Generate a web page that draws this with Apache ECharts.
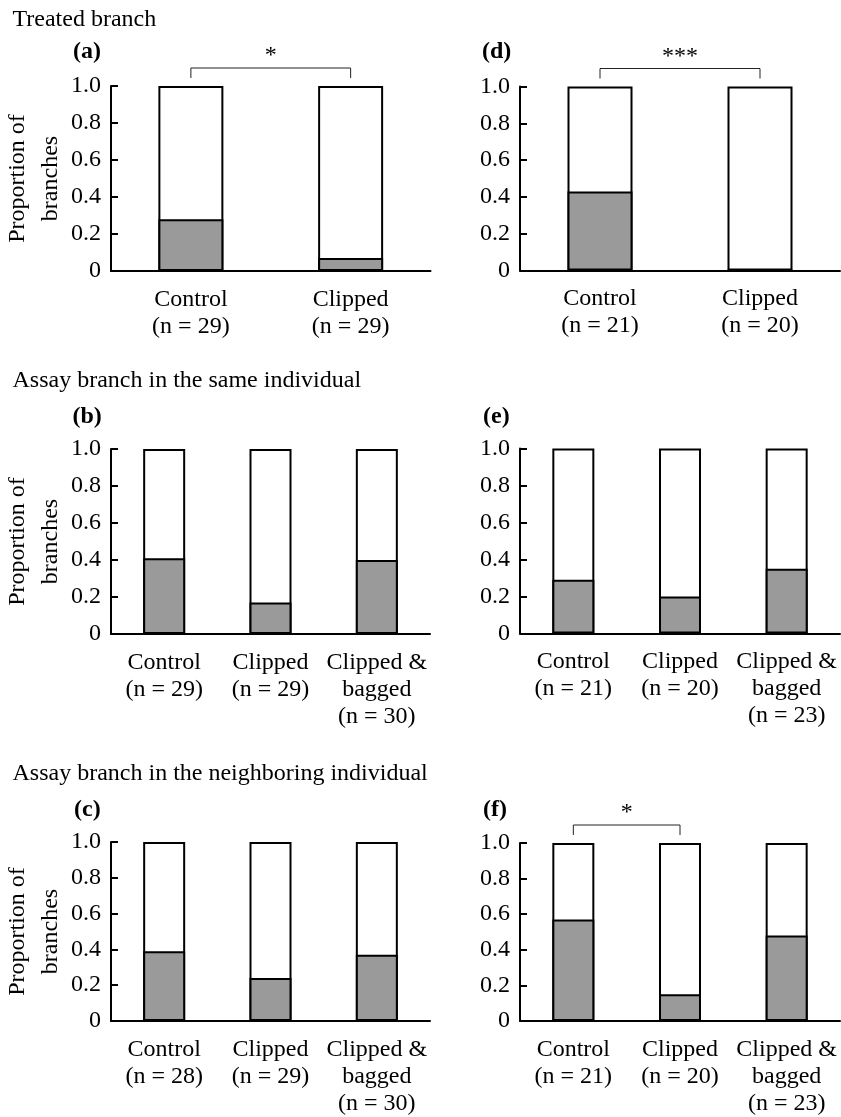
<!DOCTYPE html>
<html>
<head>
<meta charset="utf-8">
<script src="https://cdn.jsdelivr.net/npm/echarts@6/dist/echarts.min.js"></script>
<style>
  html, body { margin: 0; padding: 0; background: #fff; }
  #chart { width: 841px; height: 1117px; }
</style>
</head>
<body>
<div id="chart"></div>
<script>
// categories per panel
const catA = ["Control\n(n = 29)", "Clipped\n(n = 29)"];
const catD = ["Control\n(n = 21)", "Clipped\n(n = 20)"];
const catB = ["Control\n(n = 29)", "Clipped\n(n = 29)", "Clipped &\nbagged\n(n = 30)"];
const catE = ["Control\n(n = 21)", "Clipped\n(n = 20)", "Clipped &\nbagged\n(n = 23)"];
const catC = ["Control\n(n = 28)", "Clipped\n(n = 29)", "Clipped &\nbagged\n(n = 30)"];
const catF = ["Control\n(n = 21)", "Clipped\n(n = 20)", "Clipped &\nbagged\n(n = 23)"];

// proportion of branches (grey part) and the whole bar
const grayA = [0.28, 0.07];
const grayD = [0.43, 0];
const grayB = [0.41, 0.17, 0.40];
const grayE = [0.29, 0.20, 0.35];
const grayC = [0.39, 0.24, 0.37];
const grayF = [0.57, 0.15, 0.48];
const full2 = [1, 1];
const full3 = [1, 1, 1];

const rowTitles = ["Treated branch", "Assay branch in the same individual", "Assay branch in the neighboring individual"];
const panelLetters = ["(a)", "(d)", "(b)", "(e)", "(c)", "(f)"];
// significance brackets: panel index, first and second category, stars
const sigPanel = [0, 1, 5];
const sigFrom = [0, 0, 0];
const sigTo = [1, 1, 1];
const sigText = ["*", "***", "*"];

const FONT = '"Liberation Serif", "Times New Roman", serif';
const GRAY = "#9a9a9a";

const cats = [catA, catD, catB, catE, catC, catF];
const grays = [grayA, grayD, grayB, grayE, grayC, grayF];
const fulls = [full2, full2, full3, full3, full3, full3];

const grids = [
  { left: 110.5, width: 320, top: 86, height: 185 },
  { left: 520, width: 320, top: 86.5, height: 184 },
  { left: 110, width: 320, top: 449, height: 185 },
  { left: 520, width: 320, top: 448.5, height: 185 },
  { left: 110, width: 320, top: 842, height: 185 },
  { left: 520, width: 320, top: 843, height: 185 },
];

const chart = echarts.init(document.getElementById("chart"));

const xAxis = [];
const yAxis = [];
const series = [];
cats.forEach((c, i) => {
  xAxis.push({
    type: "category",
    gridIndex: i,
    data: c,
    axisTick: { show: false },
    axisLine: { lineStyle: { color: "#000", width: 2 } },
    axisLabel: {
      interval: 0,
      margin: 15,
      color: "#000",
      fontFamily: FONT,
      fontSize: 24,
      lineHeight: 27,
    },
  });
  const y = {
    type: "value",
    gridIndex: i,
    min: 0,
    max: 1,
    interval: 0.2,
    splitLine: { show: false },
    axisLine: { show: true, lineStyle: { color: "#000", width: 2 } },
    axisTick: { show: true, inside: true, length: 7, lineStyle: { color: "#000", width: 2 } },
    axisLabel: {
      margin: 10,
      color: "#000",
      fontFamily: FONT,
      fontSize: 24,
      formatter: (v) => (v === 0 ? "0" : v.toFixed(1)),
    },
  };
  if (i % 2 === 0) {
    y.name = "Proportion of\nbranches";
    y.nameLocation = "middle";
    y.nameGap = 44;
    y.nameTextStyle = { color: "#000", fontFamily: FONT, fontSize: 24, lineHeight: 33 };
  }
  yAxis.push(y);
  const bw = c.length === 2 ? 65 : 42;
  series.push({
    type: "bar",
    xAxisIndex: i,
    yAxisIndex: i,
    data: fulls[i],
    barWidth: bw,
    barGap: "-100%",
    itemStyle: { color: "#fff", borderColor: "#000", borderWidth: 2 },
    silent: true,
  });
  series.push({
    type: "bar",
    xAxisIndex: i,
    yAxisIndex: i,
    data: grays[i],
    barWidth: bw,
    barGap: "-100%",
    itemStyle: { color: GRAY, borderColor: "#000", borderWidth: 2 },
    silent: true,
  });
});

chart.setOption({
  animation: false,
  backgroundColor: "#fff",
  grid: grids,
  xAxis: xAxis,
  yAxis: yAxis,
  series: series,
});

// titles, panel letters and significance brackets
const graphic = [];
const titleY = [20, 381, 773.5];
rowTitles.forEach((t, r) => {
  graphic.push({
    type: "text",
    x: 12.5,
    y: titleY[r],
    style: { text: t, font: "24px " + FONT, fill: "#000", verticalAlign: "middle" },
  });
});
const letterPos = [[73, 51.5], [482, 51.5], [72.5, 416.5], [483, 416.5], [74, 810], [483, 810]];
panelLetters.forEach((t, i) => {
  graphic.push({
    type: "text",
    x: letterPos[i][0],
    y: letterPos[i][1],
    style: { text: t, font: "bold 24px " + FONT, fill: "#000", verticalAlign: "middle" },
  });
});
sigPanel.forEach((p, k) => {
  const x1 = chart.convertToPixel({ xAxisIndex: p }, sigFrom[k]);
  const x2 = chart.convertToPixel({ xAxisIndex: p }, sigTo[k]);
  const top = grids[p].top;
  const yl = top - 18;
  graphic.push({
    type: "polyline",
    shape: { points: [[x1, top - 8], [x1, yl], [x2, yl], [x2, top - 8]] },
    style: { stroke: "#222", lineWidth: 1, fill: null },
  });
  graphic.push({
    type: "text",
    x: (x1 + x2) / 2,
    y: yl - 12,
    style: { text: sigText[k], font: "24px " + FONT, fill: "#000", align: "center", verticalAlign: "middle" },
  });
});
chart.setOption({ graphic: graphic });
</script>
</body>
</html>
